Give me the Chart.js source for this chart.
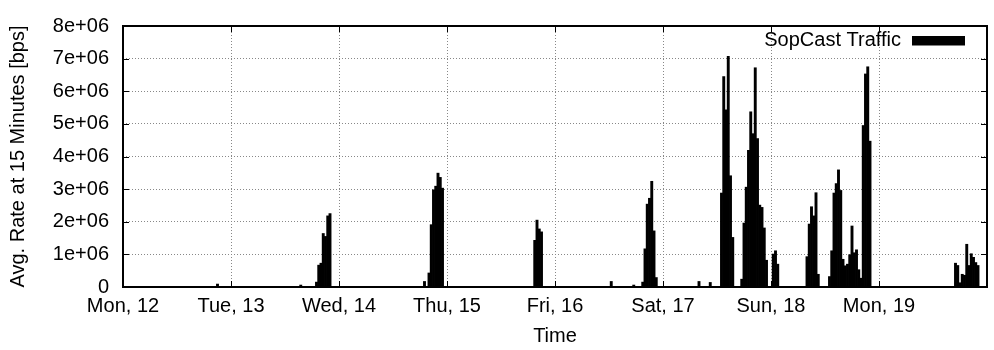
<!DOCTYPE html>
<html>
<head>
<meta charset="utf-8">
<script src="https://cdn.jsdelivr.net/npm/chart.js@4/dist/chart.umd.min.js"></script>
<style>
  body { margin: 0; background: #fff; }
</style>
</head>
<body>
<canvas id="traffic" width="994" height="350"></canvas>
<script>
const DAY_LABELS = ['Mon, 12', 'Tue, 13', 'Wed, 14', 'Thu, 15', 'Fri, 16', 'Sat, 17', 'Sun, 18', 'Mon, 19'];
const RATE_LABELS = ['0', '1e+06', '2e+06', '3e+06', '4e+06', '5e+06', '6e+06', '7e+06', '8e+06'];

// first sample of each burst, in hours after Mon 12 00:00
const burstStart = [21, 39.5, 43, 67, 91.5, 108.5, 113.5, 115.5, 128, 130.5, 133, 137.5, 144.5, 152, 157, 185];
// avg. rate in bps, one value per 30 min starting at burstStart
const burstRate = [
  [0.09e6],
  [0.06e6],
  [0.15e6, 0.67e6, 0.73e6, 1.64e6, 1.55e6, 2.18e6, 2.25e6],
  [0.17e6, 0, 0.43e6, 1.91e6, 2.98e6, 3.09e6, 3.49e6, 3.36e6, 3.03e6],
  [1.43e6, 2.05e6, 1.78e6, 1.69e6],
  [0.17e6],
  [0.06e6],
  [0.15e6, 1.17e6, 2.54e6, 2.72e6, 3.24e6, 1.72e6, 0.29e6],
  [0.17e6],
  [0.14e6],
  [2.88e6, 6.45e6, 5.43e6, 7.07e6, 3.41e6, 1.52e6],
  [0.24e6, 1.96e6, 3.06e6, 4.19e6, 5.37e6, 4.70e6, 6.72e6, 4.55e6, 2.51e6, 2.44e6, 1.81e6, 0.82e6],
  [1.01e6, 1.11e6, 0.70e6],
  [0.93e6, 1.93e6, 2.46e6, 2.18e6, 2.89e6, 0.39e6],
  [0.32e6, 1.11e6, 2.88e6, 3.17e6, 3.59e6, 2.96e6, 0.85e6, 0.65e6, 0.70e6, 0.99e6, 1.87e6, 1.05e6, 1.14e6, 0.53e6, 0.27e6, 4.95e6, 6.53e6, 6.75e6, 4.47e6],
  [0.73e6, 0.66e6, 0.13e6, 0.39e6, 0.36e6, 1.31e6, 0.66e6, 1.02e6, 0.91e6, 0.75e6, 0.66e6],
];

const points = [];
burstStart.forEach((start, i) => {
  burstRate[i].forEach((rate, j) => points.push({ x: start + j * 0.5, y: rate }));
});

const font = { family: '"Liberation Sans", Arial, sans-serif', size: 20 };

// gnuplot-like frame: border, inward tick marks and the key in the top right
const frame = {
  id: 'frame',
  afterDatasetsDraw(chart) {
    const { ctx, chartArea: a, scales: { x, y } } = chart;
    ctx.save();
    ctx.strokeStyle = '#000';
    ctx.lineWidth = 1;
    ctx.beginPath();
    x.ticks.forEach(t => {
      const px = Math.round(x.getPixelForValue(t.value)) + 0.5;
      ctx.moveTo(px, a.bottom); ctx.lineTo(px, a.bottom - 6);
      ctx.moveTo(px, a.top); ctx.lineTo(px, a.top + 6);
    });
    y.ticks.forEach(t => {
      const py = Math.round(y.getPixelForValue(t.value)) + 0.5;
      ctx.moveTo(a.left, py); ctx.lineTo(a.left + 6, py);
      ctx.moveTo(a.right, py); ctx.lineTo(a.right - 6, py);
    });
    ctx.stroke();
    ctx.lineWidth = 2;
    ctx.strokeRect(a.left, a.top, a.right - a.left, a.bottom - a.top);

    ctx.font = `${font.size}px ${font.family}`;
    ctx.fillStyle = '#000';
    ctx.textAlign = 'right';
    ctx.textBaseline = 'alphabetic';
    ctx.fillText(chart.data.datasets[0].label, a.right - 86, a.top + 20);
    ctx.fillRect(a.right - 75, a.top + 10, 53, 9.5);
    ctx.restore();
  }
};

new Chart(document.getElementById('traffic'), {
  type: 'bar',
  data: {
    datasets: [{
      label: 'SopCast Traffic',
      data: points,
      backgroundColor: '#000',
      borderWidth: 0,
      barPercentage: 1,
      categoryPercentage: 1
    }]
  },
  options: {
    responsive: false,
    animation: false,
    layout: { padding: { top: 13.5, right: 1, left: 0, bottom: 0 } },
    plugins: { legend: { display: false }, tooltip: { enabled: false } },
    scales: {
      x: {
        type: 'linear',
        min: 0,
        max: 192,
        offset: false,
        grid: { offset: false, color: '#888', lineWidth: 1, drawTicks: false },
        border: { display: false, dash: [1, 2] },
        ticks: {
          stepSize: 24,
          autoSkip: false,
          maxRotation: 0,
          padding: 7,
          color: '#000',
          font,
          callback: v => DAY_LABELS[v / 24] ?? ''
        },
        title: { display: true, text: 'Time', color: '#000', font, padding: { top: 0, bottom: 2 } },
        afterFit: s => { s.height = 63; }
      },
      y: {
        min: 0,
        max: 8e6,
        grid: { color: '#888', lineWidth: 1, drawTicks: false },
        border: { display: false, dash: [1, 2] },
        ticks: {
          stepSize: 1e6,
          padding: 14,
          color: '#000',
          font,
          callback: (v, i) => RATE_LABELS[i]
        },
        title: { display: true, text: 'Avg. Rate at 15 Minutes [bps]', color: '#000', font, padding: { top: 6 } },
        afterFit: s => { s.width = 123; }
      }
    }
  },
  plugins: [frame]
});
</script>
</body>
</html>
